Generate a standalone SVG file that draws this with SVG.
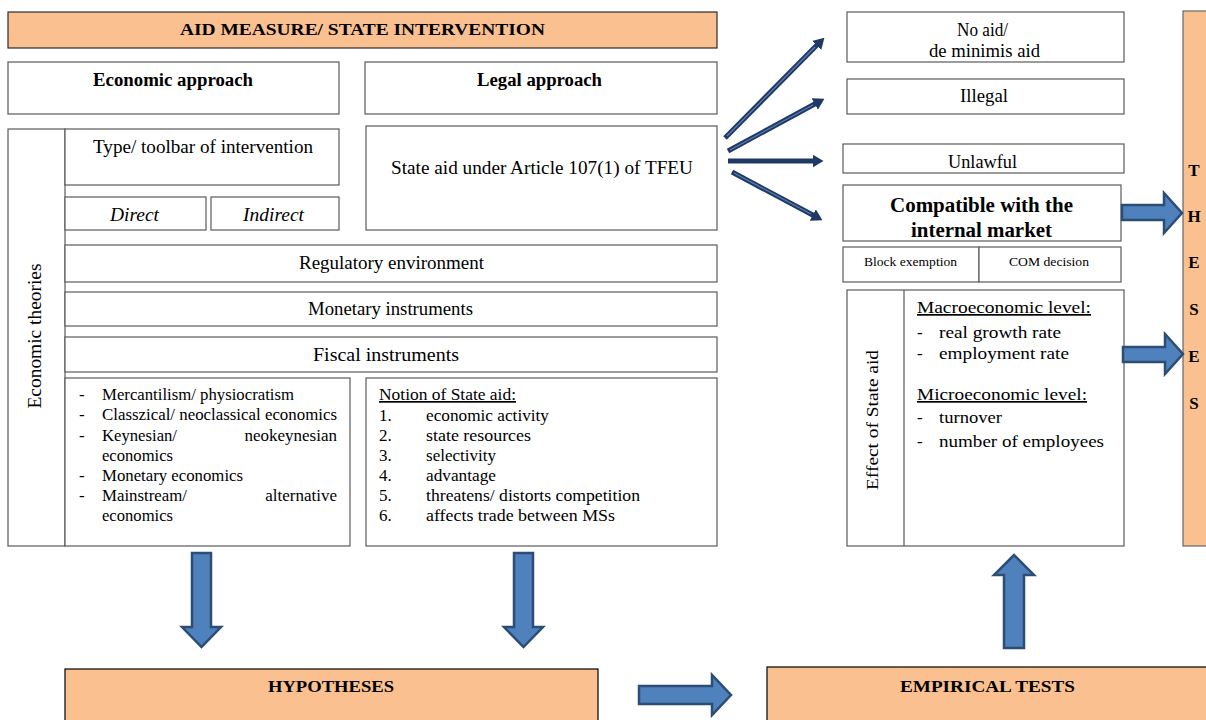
<svg xmlns="http://www.w3.org/2000/svg" width="1206" height="720" viewBox="0 0 1206 720">
<style>
.box{fill:#ffffff;stroke:#5a5a5a;stroke-width:1.2}
.peach{fill:#fac090;stroke:#2a2a2a;stroke-width:1.2}
.t{font-family:"Liberation Serif","Times New Roman",serif;font-size:17px;fill:#000}
.L{font-size:18px}
.b{font-weight:bold}
.i{font-style:italic}
.s{font-size:13px}
.u{text-decoration:underline}
.blk{fill:#4f81bd;stroke:#2c4d75;stroke-width:2.5;stroke-linejoin:miter}
.thin{stroke:#1f3864;stroke-width:5;fill:none}
.thinIn{stroke:#5d7fb5;stroke-width:1.2;fill:none}
</style>
<defs>
<marker id="ah" markerUnits="userSpaceOnUse" markerWidth="11" markerHeight="13" viewBox="0 0 11 13" refX="0.5" refY="6.5" orient="auto">
<path d="M0,0 L11,6.5 L0,13 z" fill="#1f3864"/>
</marker>
</defs>
<rect width="1206" height="720" fill="#ffffff"/>

<g id="aid-measure">
<rect class="peach" x="8" y="12" width="709" height="36"/>
<text class="t b" x="180" y="35" textLength="365" lengthAdjust="spacingAndGlyphs">AID MEASURE/  STATE  INTERVENTION</text>
</g>

<g id="economic-approach">
<rect class="box" x="8" y="62" width="331" height="52"/>
<text class="t L b" x="93" y="86" textLength="160" lengthAdjust="spacingAndGlyphs">Economic  approach</text>
</g>

<g id="legal-approach">
<rect class="box" x="365" y="62" width="352" height="52"/>
<text class="t L b" x="477" y="86" textLength="125" lengthAdjust="spacingAndGlyphs">Legal approach</text>
</g>

<g id="economic-theories">
<rect class="box" x="8" y="129" width="57" height="417"/>
<text class="t L" transform="translate(41,336) rotate(-90)" text-anchor="middle" textLength="145" lengthAdjust="spacingAndGlyphs">Economic  theories</text>
</g>

<g id="type-toolbar">
<rect class="box" x="65" y="129" width="274" height="56"/>
<text class="t L" x="93" y="153" textLength="220" lengthAdjust="spacingAndGlyphs">Type/  toolbar of intervention</text>
</g>

<g id="direct">
<rect class="box" x="65" y="197" width="141" height="33"/>
<text class="t L i" x="110" y="221" textLength="49" lengthAdjust="spacingAndGlyphs">Direct</text>
</g>

<g id="indirect">
<rect class="box" x="211" y="197" width="128" height="33"/>
<text class="t L i" x="243" y="221" textLength="61" lengthAdjust="spacingAndGlyphs">Indirect</text>
</g>

<g id="state-aid-article">
<rect class="box" x="366" y="126" width="351" height="104"/>
<text class="t L" x="391" y="174" textLength="302" lengthAdjust="spacingAndGlyphs">State aid under  Article  107(1)  of  TFEU</text>
</g>

<g id="regulatory-environment">
<rect class="box" x="65" y="245" width="652" height="37"/>
<text class="t L" x="299" y="269" textLength="185" lengthAdjust="spacingAndGlyphs">Regulatory  environment</text>
</g>

<g id="monetary-instruments">
<rect class="box" x="65" y="292" width="652" height="34"/>
<text class="t L" x="308" y="315" textLength="165" lengthAdjust="spacingAndGlyphs">Monetary  instruments</text>
</g>

<g id="fiscal-instruments">
<rect class="box" x="65" y="337" width="652" height="35"/>
<text class="t L" x="313" y="361" textLength="146" lengthAdjust="spacingAndGlyphs">Fiscal instruments</text>
</g>

<g id="theories-list">
<rect class="box" x="65" y="378" width="285" height="168"/>
<text class="t" x="79" y="400">-</text>
<text class="t" x="102" y="400" textLength="192" lengthAdjust="spacingAndGlyphs">Mercantilism/  physiocratism</text>
<text class="t" x="79" y="420">-</text>
<text class="t" x="102" y="420" textLength="235" lengthAdjust="spacingAndGlyphs">Classzical/  neoclassical  economics</text>
<text class="t" x="79" y="441">-</text>
<text class="t" x="102" y="441" textLength="75" lengthAdjust="spacingAndGlyphs">Keynesian/</text>
<text class="t" x="337" y="441" text-anchor="end">neokeynesian</text>
<text class="t" x="102" y="461" textLength="71" lengthAdjust="spacingAndGlyphs">economics</text>
<text class="t" x="79" y="481">-</text>
<text class="t" x="102" y="481" textLength="141" lengthAdjust="spacingAndGlyphs">Monetary economics</text>
<text class="t" x="79" y="501">-</text>
<text class="t" x="102" y="501" textLength="85" lengthAdjust="spacingAndGlyphs">Mainstream/</text>
<text class="t" x="337" y="501" text-anchor="end">alternative</text>
<text class="t" x="102" y="521" textLength="71" lengthAdjust="spacingAndGlyphs">economics</text>
</g>

<g id="notion-of-state-aid">
<rect class="box" x="366" y="378" width="351" height="168"/>
<text class="t u" x="379" y="400" textLength="137" lengthAdjust="spacingAndGlyphs">Notion of State aid:</text>
<text class="t" x="379" y="421">1.</text>
<text class="t" x="426" y="421" textLength="123" lengthAdjust="spacingAndGlyphs">economic activity</text>
<text class="t" x="379" y="441">2.</text>
<text class="t" x="426" y="441" textLength="105" lengthAdjust="spacingAndGlyphs">state resources</text>
<text class="t" x="379" y="461">3.</text>
<text class="t" x="426" y="461" textLength="70" lengthAdjust="spacingAndGlyphs">selectivity</text>
<text class="t" x="379" y="481">4.</text>
<text class="t" x="426" y="481" textLength="70" lengthAdjust="spacingAndGlyphs">advantage</text>
<text class="t" x="379" y="501">5.</text>
<text class="t" x="426" y="501" textLength="214" lengthAdjust="spacingAndGlyphs">threatens/ distorts competition</text>
<text class="t" x="379" y="521">6.</text>
<text class="t" x="426" y="521" textLength="189" lengthAdjust="spacingAndGlyphs">affects trade between MSs</text>
</g>

<g id="no-aid">
<rect class="box" x="847" y="12" width="277" height="50"/>
<text class="t L" x="957" y="36" textLength="51" lengthAdjust="spacingAndGlyphs">No aid/</text>
<text class="t L" x="929" y="57" textLength="111" lengthAdjust="spacingAndGlyphs">de minimis aid</text>
</g>

<g id="illegal">
<rect class="box" x="847" y="79" width="277" height="35"/>
<text class="t L" x="960" y="102" textLength="48" lengthAdjust="spacingAndGlyphs">Illegal</text>
</g>

<g id="unlawful">
<rect class="box" x="843" y="144" width="281" height="29"/>
<text class="t L" x="948" y="168" textLength="69" lengthAdjust="spacingAndGlyphs">Unlawful</text>
</g>

<g id="compatible">
<rect class="box" x="843" y="185" width="278" height="56"/>
<text class="t b" style="font-size:20px" x="890" y="212" textLength="183" lengthAdjust="spacingAndGlyphs">Compatible with the</text>
<text class="t b" style="font-size:20px" x="911" y="237" textLength="141" lengthAdjust="spacingAndGlyphs">internal market</text>
</g>

<g id="block-exemption">
<rect class="box" x="843" y="247" width="136" height="35"/>
<text class="t s" x="864" y="266" textLength="93" lengthAdjust="spacingAndGlyphs">Block exemption</text>
</g>

<g id="com-decision">
<rect class="box" x="979" y="247" width="142" height="35"/>
<text class="t s" x="1009" y="266" textLength="80" lengthAdjust="spacingAndGlyphs">COM decision</text>
</g>

<g id="effect-of-state-aid">
<rect class="box" x="847" y="290" width="277" height="256"/>
<line x1="904" y1="290" x2="904" y2="546" stroke="#5a5a5a" stroke-width="1.2"/>
<text class="t" transform="translate(878,420) rotate(-90)" text-anchor="middle" textLength="140" lengthAdjust="spacingAndGlyphs">Effect  of State aid</text>
<text class="t u" x="917" y="313" textLength="174" lengthAdjust="spacingAndGlyphs">Macroeconomic  level:</text>
<text class="t" x="917" y="338">-</text>
<text class="t" x="939" y="338" textLength="122" lengthAdjust="spacingAndGlyphs">real growth  rate</text>
<text class="t" x="917" y="359">-</text>
<text class="t" x="939" y="359" textLength="130" lengthAdjust="spacingAndGlyphs">employment  rate</text>
<text class="t u" x="917" y="400" textLength="170" lengthAdjust="spacingAndGlyphs">Microeconomic  level:</text>
<text class="t" x="917" y="423">-</text>
<text class="t" x="939" y="423" textLength="63" lengthAdjust="spacingAndGlyphs">turnover</text>
<text class="t" x="917" y="447">-</text>
<text class="t" x="939" y="447" textLength="165" lengthAdjust="spacingAndGlyphs">number  of employees</text>
</g>

<g id="theses">
<rect class="peach" x="1183" y="11" width="30" height="535" style="stroke:#666"/>
<text class="t b" x="1194" y="176" text-anchor="middle">T</text>
<text class="t b" x="1194" y="222" text-anchor="middle">H</text>
<text class="t b" x="1194" y="268" text-anchor="middle">E</text>
<text class="t b" x="1194" y="315" text-anchor="middle">S</text>
<text class="t b" x="1194" y="362" text-anchor="middle">E</text>
<text class="t b" x="1194" y="409" text-anchor="middle">S</text>
</g>

<g id="hypotheses">
<rect class="peach" x="65" y="669" width="533" height="60" style="stroke:#000"/>
<text class="t b" x="268" y="692" textLength="126" lengthAdjust="spacingAndGlyphs">HYPOTHESES</text>
</g>

<g id="empirical-tests">
<rect class="peach" x="767" y="667" width="450" height="62" style="stroke:#000"/>
<text class="t b" x="900" y="692" textLength="175" lengthAdjust="spacingAndGlyphs">EMPIRICAL  TESTS</text>
</g>

<g id="connectors">
<line class="thin" x1="725" y1="138" x2="817" y2="45.1" marker-end="url(#ah)"/>
<line class="thinIn" x1="727" y1="136" x2="815" y2="47"/>
<line class="thin" x1="728" y1="151" x2="815.2" y2="103.8" marker-end="url(#ah)"/>
<line class="thinIn" x1="730" y1="150" x2="813" y2="105"/>
<line class="thin" x1="728" y1="161" x2="813" y2="161" marker-end="url(#ah)"/>
<line class="thin" x1="732" y1="172" x2="813.2" y2="215.3" marker-end="url(#ah)"/>
<line class="thinIn" x1="734" y1="173" x2="811" y2="214"/>
<polygon class="blk" points="1122,205 1164,205 1164,193 1182,213 1164,233 1164,220 1122,220"/>
<polygon class="blk" points="1123,347 1165,347 1165,334 1183,354 1165,374 1165,362 1123,362"/>
<polygon class="blk" points="192,553 211,553 211,627 221,627 201.5,647 182,627 192,627"/>
<polygon class="blk" points="514,553 533,553 533,627 543,627 523.5,647 504,627 514,627"/>
<polygon class="blk" points="1004,648 1024,648 1024,575 1034,575 1014,555 994,575 1004,575"/>
<polygon class="blk" points="639,686 712,686 712,675 731,695 712,715 712,704 639,704"/>
</g>
</svg>
